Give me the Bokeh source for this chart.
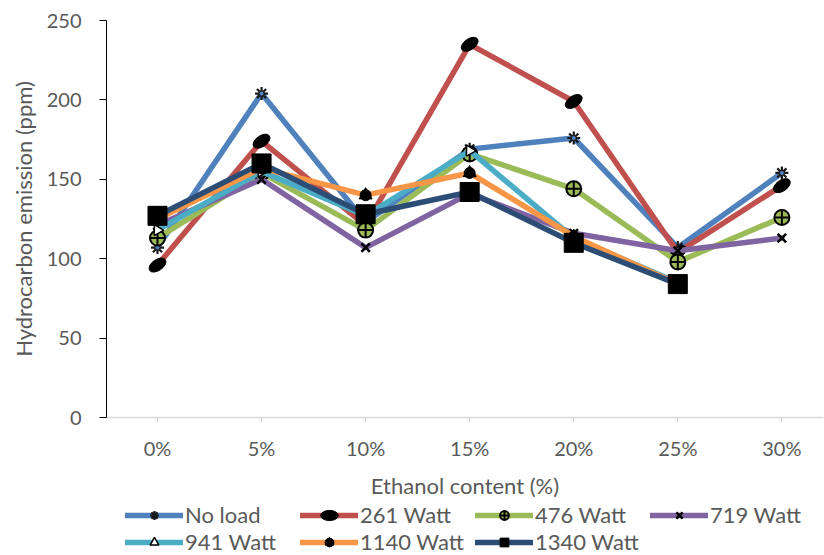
from bokeh.plotting import figure
from bokeh.layouts import column
from bokeh.models import FixedTicker, Legend, LegendItem, Range1d
from bokeh.embed import file_html
from bokeh.resources import INLINE

# Ethanol blends on the x axis
categories = ["0%", "5%", "10%", "15%", "20%", "25%", "30%"]

# Hydrocarbon emission (ppm) per engine load
no_load = [107, 204, 123, 169, 176, 107, 154]
w261 = [96, 174, 121, 235, 199, 104, 146]
w476 = [113, 154, 118, 166, 144, 98, 126]
w719 = [121, 150, 107, 141, 116, 105, 113]
w941 = [118, 155, 127, 168, 113, 85]
w1140 = [125, 157, 140, 154, 114, 84]
w1340 = [127, 160, 128, 142, 110, 84]

series_names = ["No load", "261 Watt", "476 Watt", "719 Watt",
                "941 Watt", "1140 Watt", "1340 Watt"]
series_values = [no_load, w261, w476, w719, w941, w1140, w1340]
colors = ["#4F81BD", "#C0504D", "#9BBB59", "#8064A2",
          "#4BACC6", "#F79646", "#2C4D75"]
kinds = ["snow", "leaf", "ring", "x", "tri", "drop", "square"]

FONT = "Lato"
GREY = "#595959"

p = figure(width=824, height=501, output_backend="svg", toolbar_location=None,
           x_range=Range1d(-0.49, 6.40), y_range=Range1d(0, 250),
           min_border_left=106, min_border_right=1, min_border_top=20,
           min_border_bottom=84, background_fill_color="white",
           border_fill_color="white", outline_line_color=None)
p.grid.visible = False

# y axis
p.yaxis.ticker = FixedTicker(ticks=[0, 50, 100, 150, 200, 250])
p.yaxis.axis_line_color = "black"
p.yaxis.major_tick_line_color = "black"
p.yaxis.major_tick_out = 7
p.yaxis.major_tick_in = 0
p.yaxis.minor_tick_line_color = None
p.yaxis.major_label_text_font = FONT
p.yaxis.major_label_text_font_size = "20px"
p.yaxis.major_label_text_color = GREY
p.yaxis.major_label_standoff = 18
p.yaxis.axis_label = "Hydrocarbon emission (ppm)"
p.yaxis.axis_label_text_font = FONT
p.yaxis.axis_label_text_font_size = "22px"
p.yaxis.axis_label_text_font_style = "normal"
p.yaxis.axis_label_text_color = GREY
p.yaxis.axis_label_standoff = 7

# x axis
p.xaxis.ticker = FixedTicker(ticks=list(range(len(categories))))
p.xaxis.major_label_overrides = {i: c for i, c in enumerate(categories)}
p.xaxis.axis_line_color = "#D9D9D9"
p.xaxis.axis_line_width = 1.5
p.xaxis.major_tick_line_color = "#D9D9D9"
p.xaxis.major_tick_out = 5
p.xaxis.major_tick_in = 0
p.xaxis.minor_tick_line_color = None
p.xaxis.major_label_text_font = FONT
p.xaxis.major_label_text_font_size = "20px"
p.xaxis.major_label_text_color = GREY
p.xaxis.major_label_standoff = 13
p.xaxis.axis_label = "Ethanol content (%)"
p.xaxis.axis_label_text_font = FONT
p.xaxis.axis_label_text_font_size = "22px"
p.xaxis.axis_label_text_font_style = "normal"
p.xaxis.axis_label_text_color = GREY
p.xaxis.axis_label_standoff = 9


def add_markers(fig, kind, xs, ys, color, scale=1.0):
    """Draw the series marker on fig; returns the renderers used."""
    rs = []
    if kind == "snow":
        rs.append(fig.scatter(xs, ys, marker="asterisk", size=13 * scale,
                              line_color="#1a1a1a", line_width=2.2))
        if scale == 1.0:
            rs.append(fig.scatter(xs, ys, marker="circle", size=5,
                                  fill_color=color, line_color="#1a1a1a",
                                  line_width=1))
    elif kind == "leaf":
        rs.append(fig.ellipse(xs, ys, width=19 * scale, height=11 * scale,
                              angle=0.6, width_units="screen",
                              height_units="screen",
                              fill_color="black", line_color="black"))
    elif kind == "ring":
        rs.append(fig.scatter(xs, ys, marker="circle_cross", size=15 * scale,
                              fill_color=color, line_color="black", line_width=2))
    elif kind == "x":
        rs.append(fig.scatter(xs, ys, marker="x", size=12 * scale,
                              line_color="black", line_width=2.5))
    elif kind == "tri":
        rs.append(fig.scatter(xs, ys, marker="triangle", size=11 * scale,
                              angle=0.5, fill_color="white",
                              line_color="black", line_width=1.5))
    elif kind == "drop":
        rs.append(fig.scatter(xs, ys, marker="triangle", size=13 * scale,
                              fill_color="black", line_color="black"))
        rs.append(fig.scatter(xs, ys, marker="circle", size=11 * scale,
                              fill_color="black", line_color="black"))
    elif kind == "square":
        rs.append(fig.scatter(xs, ys, marker="square", size=19 * scale,
                              fill_color="black", line_color="black"))
    return rs


for name, vals, color, kind in zip(series_names, series_values, colors, kinds):
    xs = list(range(len(vals)))
    p.line(xs, vals, line_color=color, line_width=5.5,
           line_join="round", line_cap="round")
    add_markers(p, kind, xs, vals, color)

# Legend strip under the chart; its sample renderers sit outside the view
leg_fig = figure(width=824, height=54, output_backend="svg",
                 toolbar_location=None, x_range=Range1d(0, 1),
                 y_range=Range1d(0, 1), min_border=0,
                 outline_line_color=None, background_fill_color="white",
                 border_fill_color="white")
leg_fig.axis.visible = False
leg_fig.grid.visible = False

off = [-10, -9]
items = []
for name, color, kind in zip(series_names, colors, kinds):
    line = leg_fig.line(off, off, line_color=color, line_width=5.5, line_cap="round")
    marks = add_markers(leg_fig, kind, off, off, color, scale=0.7)
    items.append(LegendItem(label=name, renderers=[line] + marks))

legend = Legend(items=items, orientation="horizontal", ncols=4,
                location=(19, 0), label_text_font=FONT,
                label_text_font_size="22px", label_text_color=GREY,
                glyph_width=58, glyph_height=22, label_standoff=2,
                label_width=115, spacing=0, padding=0, margin=0,
                border_line_color=None, background_fill_alpha=0)
leg_fig.add_layout(legend, "center")

page = column(p, leg_fig, spacing=0)
open("out.html", "w").write(file_html(page, INLINE))
